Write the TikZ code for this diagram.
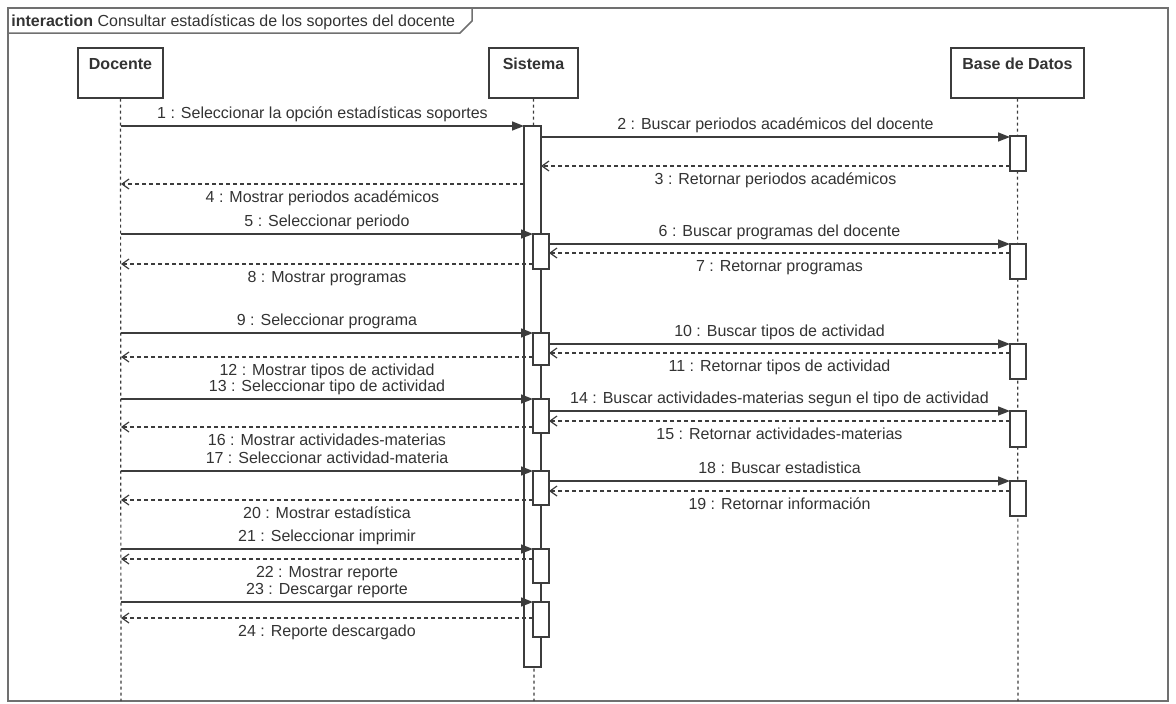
\documentclass[tikz,border=0pt]{standalone}
\usepackage{fontspec}
\setmainfont{Liberation Sans}
\usetikzlibrary{arrows.meta}
\definecolor{ink}{HTML}{3C3C3C}
\definecolor{txt}{HTML}{333333}
\definecolor{frm}{HTML}{707070}
\tikzset{
  lbl/.style={font=\fontsize{8}{9.6}\selectfont, text=txt, inner sep=0pt},
  headbox/.style={draw=ink, line width=0.75pt, fill=white, inner xsep=0pt, inner ysep=0pt,
     text height=11pt, text depth=14pt, anchor=north, font=\fontsize{8}{9.6}\selectfont\bfseries, text=txt},
  life/.style={draw=ink, line width=0.6pt, dash pattern=on 1.5pt off 1.5pt},
  actbar/.style={draw=ink, line width=0.7pt, fill=white},
  call/.style={draw=ink, line width=0.75pt, -{Triangle[length=6pt,width=4.5pt]}},
  retn/.style={draw=ink, line width=0.6pt, dash pattern=on 2pt off 1.5pt, -{Straight Barb[length=3.5pt,width=5pt]}},
  toplbl/.style={lbl, anchor=base, midway, yshift=3.75pt},
  botlbl/.style={lbl, anchor=base, midway, yshift=-9pt},
}
\newcommand\callm[5]{%
  \coordinate (#1s) at (#3,#2); \coordinate (#1e) at (#4,#2);
  \draw[call] (#1s) -- node[toplbl]{#5} (#1e);}
\newcommand\retm[5]{%
  \coordinate (#1s) at (#3,#2); \coordinate (#1e) at (#4,#2);
  \draw[retn] (#1s) -- node[botlbl]{#5} (#1e);}
\begin{document}
\begin{tikzpicture}[x=0.5pt,y=-0.5pt]
\useasboundingbox (0,0) rectangle (1176,703);
% frame
\draw[frm, line width=0.75pt] (8,8) rectangle (1168,701);
\draw[frm, line width=0.75pt] (8,33) -- (460,33) -- (472,21) -- (472,8);
\node[lbl, anchor=base west] (title) at (11,26) {\textbf{interaction} Consultar estadísticas de los soportes del docente};
% heads
\node[headbox, minimum width=42.5pt] (doc) at (120.5,47) {Docente};
\node[headbox, minimum width=44.5pt] (sis) at (533.5,47) {Sistema};
\node[headbox, minimum width=66.5pt] (bd) at (1017.5,47) {Base de Datos};
% lifelines
\coordinate (docEnd) at (121,701);
\coordinate (sisEnd) at (534,701);
\coordinate (bdEnd) at (1018,701);
\draw[life] (doc.south) -- (docEnd);
\draw[life] (sis.south) -- (sisEnd);
\draw[life] (bd.south) -- (bdEnd);
% activation bars
\draw[actbar] (524,126) rectangle (541,667);
\foreach \a/\b in {234/269,333/365,399/433,471/505,549/583,602/637}
  \draw[actbar] (533,\a) rectangle (549,\b);
\foreach \a/\b in {136/171,244/279,344/379,411/447,481/516}
  \draw[actbar] (1010,\a) rectangle (1026,\b);
% messages
\callm{m1}{126}{121}{524}{1 : Seleccionar la opción estadísticas soportes}
\callm{m2}{137}{541}{1010}{2 : Buscar periodos académicos del docente}
\retm{m3}{166}{1010}{541}{3 : Retornar periodos académicos}
\retm{m4}{184}{524}{121}{4 : Mostrar periodos académicos}
\callm{m5}{234}{121}{533}{5 : Seleccionar periodo}
\callm{m6}{244}{549}{1010}{6 : Buscar programas del docente}
\retm{m7}{253}{1010}{549}{7 : Retornar programas}
\retm{m8}{264}{533}{121}{8 : Mostrar programas}
\callm{m9}{333}{121}{533}{9 : Seleccionar programa}
\callm{m10}{344}{549}{1010}{10 : Buscar tipos de actividad}
\retm{m11}{353}{1010}{549}{11 : Retornar tipos de actividad}
\retm{m12}{357}{533}{121}{12 : Mostrar tipos de actividad}
\callm{m13}{399}{121}{533}{13 : Seleccionar tipo de actividad}
\callm{m14}{411}{549}{1010}{14 : Buscar actividades-materias segun el tipo de actividad}
\retm{m15}{421}{1010}{549}{15 : Retornar actividades-materias}
\retm{m16}{427}{533}{121}{16 : Mostrar actividades-materias}
\callm{m17}{471}{121}{533}{17 : Seleccionar actividad-materia}
\callm{m18}{481}{549}{1010}{18 : Buscar estadistica}
\retm{m19}{491}{1010}{549}{19 : Retornar información}
\retm{m20}{500}{533}{121}{20 : Mostrar estadística}
\callm{m21}{549}{121}{533}{21 : Seleccionar imprimir}
\retm{m22}{559}{533}{121}{22 : Mostrar reporte}
\callm{m23}{602}{121}{533}{23 : Descargar reporte}
\retm{m24}{618}{533}{121}{24 : Reporte descargado}
\end{tikzpicture}
\end{document}
